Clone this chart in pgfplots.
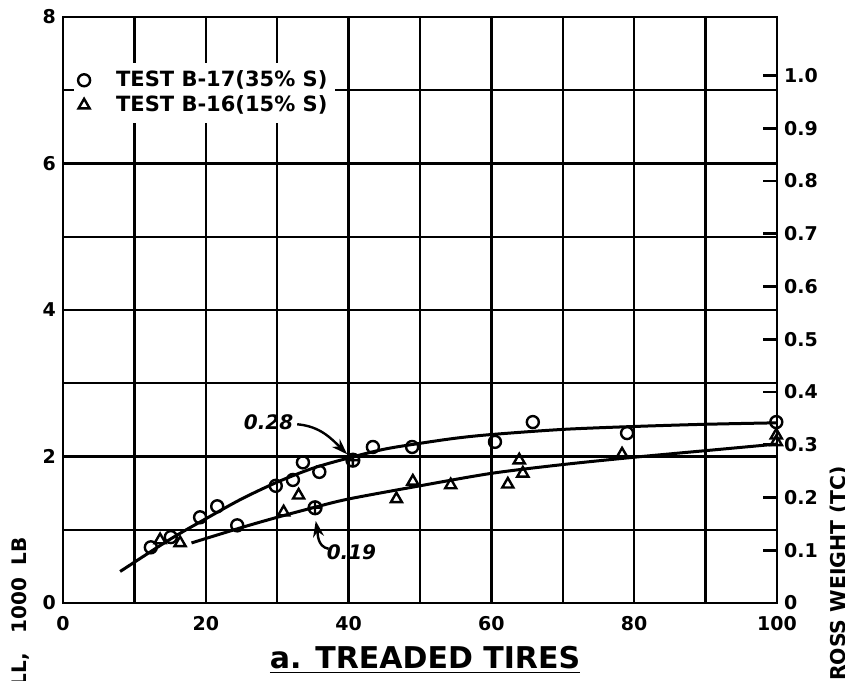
\documentclass[border=0pt]{standalone}
\usepackage{pgfplots}
\pgfplotsset{compat=1.18}
\usepackage{fontspec}
\setmainfont{DejaVu Sans}
\usetikzlibrary{arrows.meta}
\begin{document}
\begin{tikzpicture}
\begin{scope}
\clip (-31.5pt,-38.5pt) rectangle (391pt,301.5pt);
\begin{axis}[
  scale only axis, width=357pt, height=293pt,
  at={(0,0)}, anchor=south west,
  xmin=0, xmax=100, ymin=0, ymax=8,
  xtick={0,20,40,60,80,100}, minor xtick={10,30,50,70,90},
  ytick={0,2,4,6,8}, minor ytick={1,3,5,7},
  grid=both,
  major grid style={black, line width=1.2pt},
  minor grid style={black, line width=1.2pt},
  axis line style={black, line width=1.4pt},
  major tick length=0pt, minor tick length=0pt,
  tick label style={font=\bfseries\fontsize{9.5}{9.5}\selectfont},
  xticklabel style={yshift=-3pt},
  /pgf/number format/assume math mode=true,
  clip=false,
  legend image code/.code={\draw[#1] plot coordinates {(0pt,0pt)};},
  legend style={at={(axis cs:1.5,7.38)}, anchor=north west, draw=none, fill=white,
    font=\bfseries\fontsize{10.5}{11}\selectfont, inner sep=2pt, row sep=-1pt,
    /tikz/every odd column/.append style={column sep=11pt},
    cells={anchor=west}},
  legend cell align=left,
]
\addplot[only marks, mark=o, mark size=3pt, mark options={line width=1.2pt, black}]
 coordinates {(12.3,0.76)(15.1,0.9)(19.2,1.17)(21.6,1.32)(24.4,1.06)(29.8,1.6)(32.2,1.68)(33.6,1.92)(35.9,1.79)(43.4,2.13)(48.9,2.13)(60.5,2.2)(65.8,2.47)(79.0,2.32)(99.9,2.47)};
\addlegendentry{TEST B-17(35\% S)}
\addplot[only marks, mark=triangle, mark size=3.2pt, mark options={line width=1.2pt, black}]
 coordinates {(13.6,0.86)(16.4,0.82)(30.9,1.24)(33.0,1.47)(46.7,1.42)(49.0,1.66)(54.3,1.61)(62.3,1.62)(63.9,1.95)(64.4,1.77)(78.3,2.03)(99.9,2.29)(99.9,2.2)};
\addlegendentry{TEST B-16(15\% S)}
\addplot[only marks, mark=oplus, mark size=3.2pt, mark options={line width=1.2pt, black}, forget plot]
 coordinates {(40.6,1.95)(35.3,1.3)};
\addplot[black, line width=1.5pt, smooth, forget plot]
 coordinates {(8,0.43)(15,0.87)(20,1.15)(25,1.42)(30,1.65)(35,1.84)(40,1.98)(45,2.1)(50,2.18)(55,2.25)(60,2.3)(70,2.37)(80,2.41)(90,2.44)(100,2.46)};
\addplot[black, line width=1.5pt, smooth, forget plot]
 coordinates {(18,0.82)(25,1.03)(30,1.17)(35,1.3)(40,1.42)(50,1.6)(60,1.77)(70,1.89)(80,1.99)(90,2.08)(100,2.17)};
\node[font=\bfseries\itshape\fontsize{10}{10}\selectfont] at (axis cs:28.8,2.47) {0.28};
\draw[line width=1.2pt, -{Stealth[length=8pt,width=5.5pt]}] (axis cs:32.8,2.44) to[out=-5,in=135] (axis cs:39.8,2.03);
\node[font=\bfseries\itshape\fontsize{10}{10}\selectfont] at (axis cs:40.4,0.69) {0.19};
\draw[line width=1.2pt, -{Stealth[length=8pt,width=5.5pt]}] (axis cs:37.2,0.74) to[out=170,in=-80] (axis cs:35.4,1.12);
\end{axis}
\begin{axis}[
  scale only axis, width=357pt, height=293pt,
  at={(0,0)}, anchor=south west,
  xmin=0, xmax=100, ymin=0, ymax=1.1111,
  axis x line=none, axis y line*=right,
  ytick={0,0.1,0.2,0.3,0.4,0.5,0.6,0.7,0.8,0.9,1.0},
  yticklabels={0,0.1,0.2,0.3,0.4,0.5,0.6,0.7,0.8,0.9,1.0},
  tick align=inside, major tick length=7pt,
  tick style={black, line width=1.4pt},
  axis line style={black, line width=1.4pt},
  yticklabel style={font=\bfseries\fontsize{9.5}{9.5}\selectfont},
  /pgf/number format/assume math mode=true,
]
\end{axis}
\node[rotate=90, anchor=east, inner sep=0pt, font=\bfseries\fontsize{10}{10}\selectfont] at (-21.5pt,33pt) {DRAWBAR PULL,\hspace{1em}1000\hspace{0.6em}LB};
\node[rotate=90, anchor=east, inner sep=0pt, font=\bfseries\fontsize{10.2}{10.2}\selectfont] at (388pt,68.75pt) {DRAWBAR PULL / GROSS WEIGHT (TC)};
\node[font=\bfseries\fontsize{15}{15}\selectfont] at (181pt,-28.5pt) {\underline{a. TREADED TIRES}};
\end{scope}
\pgfresetboundingbox
\path[use as bounding box] (-31.5pt,-38.5pt) rectangle (391pt,301.5pt);
\end{tikzpicture}
\end{document}
